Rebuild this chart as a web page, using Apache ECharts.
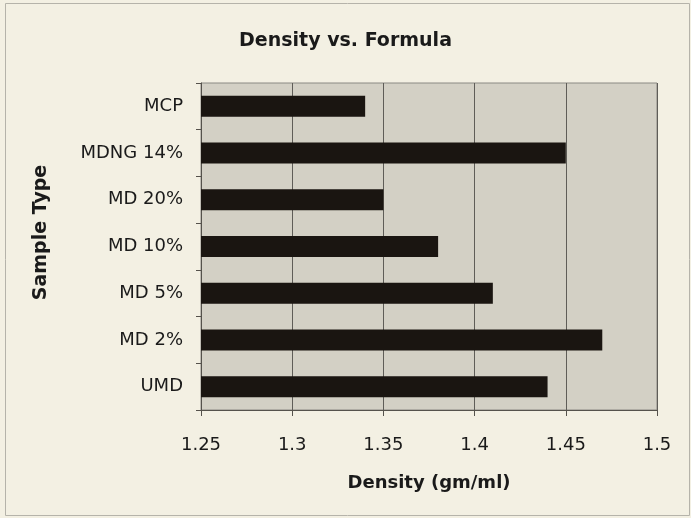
<!DOCTYPE html>
<html>
<head>
<meta charset="utf-8">
<script src="https://cdn.jsdelivr.net/npm/echarts@6/dist/echarts.min.js"></script>
<style>
html,body{margin:0;padding:0;background:#f3f0e3;}
#chart{width:691px;height:518px;}
</style>
</head>
<body>
<div id="chart"></div>
<script>
var categories = ['UMD', 'MD 2%', 'MD 5%', 'MD 10%', 'MD 20%', 'MDNG 14%', 'MCP'];
var densities = [1.44, 1.47, 1.41, 1.38, 1.35, 1.45, 1.34];
var titleText = 'Density vs. Formula';
var xName = 'Density (gm/ml)';
var yName = 'Sample Type';

var FONT = '"DejaVu Sans", "Liberation Sans", Arial, sans-serif';
var chart = echarts.init(document.getElementById('chart'), null, {renderer: 'canvas'});
chart.setOption({
  backgroundColor: '#f3f0e3',
  animation: false,
  title: {
    text: titleText,
    left: 'center',
    top: 27,
    textStyle: {fontFamily: FONT, fontSize: 19, fontWeight: 'bold', color: '#1a1a1a'}
  },
  graphic: [{
    type: 'rect',
    shape: {x: 5.5, y: 3.5, width: 684, height: 512},
    style: {fill: 'none', stroke: '#b5b3aa', lineWidth: 1},
    silent: true
  }],
  grid: {
    left: 201, top: 83, right: 34, bottom: 108,
    show: true,
    backgroundColor: '#d3d0c5',
    borderColor: '#8a8983',
    borderWidth: 1
  },
  xAxis: {
    type: 'value',
    min: 1.25, max: 1.5, interval: 0.05,
    name: xName,
    nameLocation: 'middle',
    nameGap: 64,
    nameTextStyle: {fontFamily: FONT, fontSize: 18, fontWeight: 'bold', color: '#1a1a1a'},
    axisLine: {show: true, lineStyle: {color: '#55524c', width: 1}},
    axisTick: {show: true, inside: false, length: 6, lineStyle: {color: '#55524c'}},
    axisLabel: {margin: 26, fontFamily: FONT, fontSize: 18, color: '#1a1a1a',
      formatter: function (v) { return String(Math.round(v * 100) / 100); }},
    splitLine: {show: true, lineStyle: {color: '#5f5d58', width: 1}}
  },
  yAxis: {
    type: 'category',
    data: categories,
    name: yName,
    nameLocation: 'middle',
    nameGap: 150,
    nameRotate: 90,
    nameTextStyle: {fontFamily: FONT, fontSize: 19, fontWeight: 'bold', color: '#1a1a1a', padding: [0, 0, 0, 28]},
    axisLine: {show: true, lineStyle: {color: '#55524c', width: 1}},
    axisTick: {show: true, inside: false, length: 5, alignWithLabel: false, lineStyle: {color: '#55524c'}},
    axisLabel: {margin: 18, fontFamily: FONT, fontSize: 18, color: '#1a1a1a'},
    splitLine: {show: false}
  },
  series: [{
    type: 'bar',
    data: densities,
    barWidth: 21,
    itemStyle: {color: '#1a1511'}
  }]
});
</script>
</body>
</html>
